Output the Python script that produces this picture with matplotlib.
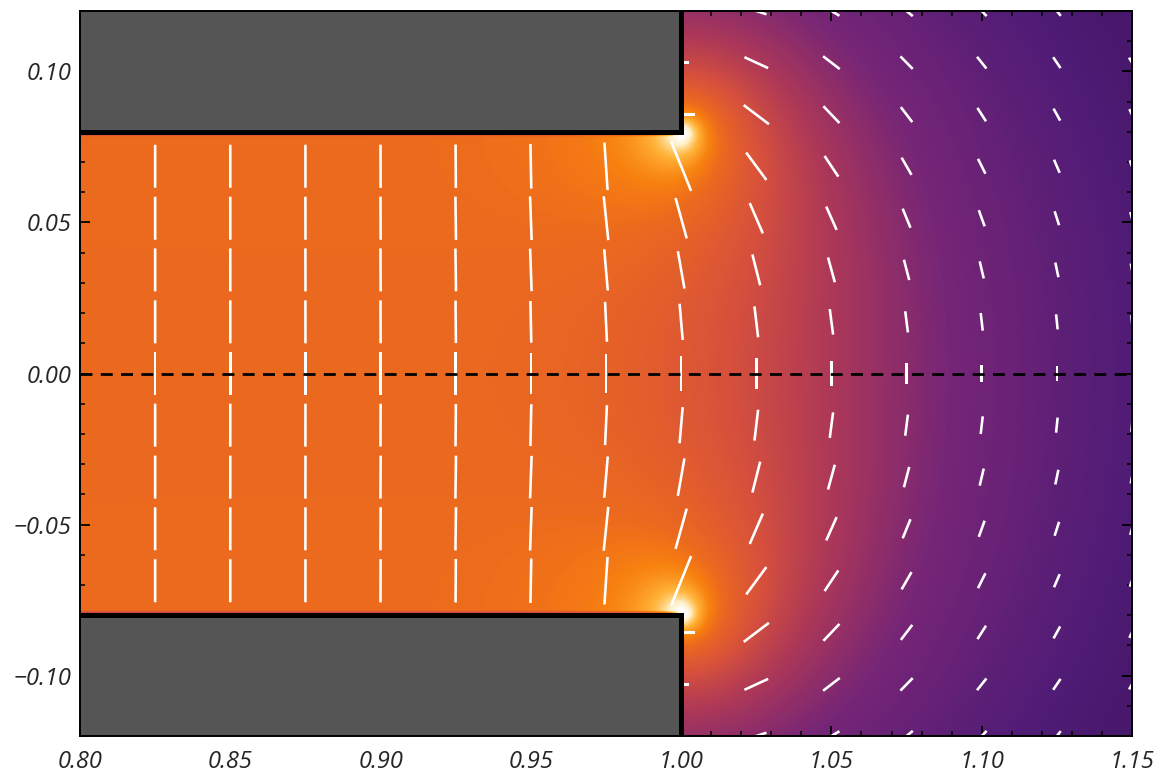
import numpy as np
import matplotlib
matplotlib.use("Agg")
import matplotlib.pyplot as plt
from matplotlib.patches import Rectangle
from matplotlib.ticker import MultipleLocator, FixedLocator
from matplotlib.colors import LogNorm, LinearSegmentedColormap

# ---------------- data / geometry ----------------
plate_edge_x = 1.00          # right end of both plates
plate_half_gap = 0.08        # plates at y = +/-0.08
plate_potential = 1.0        # upper plate +V, lower plate -V
x_limits = [0.80, 1.15]
y_limits = [-0.12, 0.12]
arrow_x = [0.825, 0.85, 0.875, 0.90, 0.925, 0.95, 0.975, 1.00,
           1.025, 1.05, 1.075, 1.10, 1.125, 1.15]
arrow_y = [-0.12, -0.1029, -0.0857, -0.0686, -0.0514, -0.0343, -0.0171, 0.0,
           0.0171, 0.0343, 0.0514, 0.0686, 0.0857, 0.1029, 0.12]
x_ticks = [0.80, 0.85, 0.90, 0.95, 1.00, 1.05, 1.10, 1.15]
y_ticks = [-0.10, -0.05, 0.00, 0.05, 0.10]
x_tick_labels = ["0.80", "0.85", "0.90", "0.95", "1.00", "1.05", "1.10", "1.15"]
y_tick_labels = ["\u22120.10", "\u22120.05", "0.00", "0.05", "0.10"]

# colour stops of the field-strength colormap
cmap_positions = [0.0, 0.25, 0.40, 0.50, 0.60, 0.70, 0.75, 0.82, 0.90, 1.0]
cmap_colors = ["#280a46", "#501c76", "#782676", "#aa375a", "#d7503c",
               "#ec6a1e", "#f8820f", "#ffb43a", "#fff0c8", "#ffffff"]

# ---------------- Laplace solve (upper half, odd symmetry) ----------------
X0, X1, Y1 = 0.40, 1.80, 0.80


def bc(xs, ys):
    X, Y = np.meshgrid(xs, ys)
    plate = (X <= plate_edge_x + 1e-9) & (Y >= plate_half_gap - 1e-9)
    val = np.where(X > plate_edge_x,
                   (2 / np.pi) * np.arctan2(Y, X - plate_edge_x),
                   np.clip(Y / plate_half_gap, 0, 1)) * plate_potential
    fixed = plate.copy()
    fixed[0, :] = True
    fixed[-1, :] = True
    fixed[:, 0] = True
    fixed[:, -1] = True
    val[plate] = plate_potential
    val[0, :] = 0.0
    return fixed, val


def relax(phi, fixed, n, omega):
    ny, nx = phi.shape
    I, J = np.indices((ny - 2, nx - 2))
    par = (I + J) % 2
    free = ~fixed[1:-1, 1:-1]
    m0 = (free & (par == 0)).astype(float) * omega
    m1 = (free & (par == 1)).astype(float) * omega
    for _ in range(n):
        for m in (m0, m1):
            c = phi[1:-1, 1:-1]
            avg = 0.25 * (phi[:-2, 1:-1] + phi[2:, 1:-1] + phi[1:-1, :-2] + phi[1:-1, 2:])
            c += m * (avg - c)
    return phi


def prolong(c):
    ny, nx = c.shape
    f = np.empty((2 * ny - 1, 2 * nx - 1))
    f[::2, ::2] = c
    f[1::2, ::2] = 0.5 * (c[:-1] + c[1:])
    f[:, 1::2] = 0.5 * (f[:, :-2:2] + f[:, 2::2])
    return f


levels = [(0.02, 600, 1.85), (0.01, 400, 1.9), (0.005, 300, 1.9),
          (0.0025, 250, 1.9), (0.00125, 200, 1.9)]
phi = None
for h, nsweep, om in levels:
    xs = np.linspace(X0, X1, int(round((X1 - X0) / h)) + 1)
    ys = np.linspace(0, Y1, int(round(Y1 / h)) + 1)
    fixed, val = bc(xs, ys)
    if phi is None:
        phi = val.copy()
    else:
        phi = prolong(phi)
    phi[fixed] = val[fixed]
    phi = relax(phi, fixed, nsweep, om)

dphi_dy, dphi_dx = np.gradient(phi, ys, xs)
Ex_u, Ey_u = -dphi_dx, -dphi_dy
# mirror to full domain: phi odd in y -> Ex odd, Ey even
ys_full = np.concatenate([-ys[:0:-1], ys])
Ex = np.vstack([-Ex_u[:0:-1], Ex_u])
Ey = np.vstack([Ey_u[:0:-1], Ey_u])
Emag = np.hypot(Ex, Ey)
E0 = 2 * plate_potential / (2 * plate_half_gap)


def bilinear(F, px, py):
    fx = (px - xs[0]) / (xs[1] - xs[0])
    fy = (py - ys_full[0]) / (ys_full[1] - ys_full[0])
    i0 = np.clip(np.floor(fx).astype(int), 0, len(xs) - 2)
    j0 = np.clip(np.floor(fy).astype(int), 0, len(ys_full) - 2)
    tx = fx - i0
    ty = fy - j0
    return ((1 - tx) * (1 - ty) * F[j0, i0] + tx * (1 - ty) * F[j0, i0 + 1]
            + (1 - tx) * ty * F[j0 + 1, i0] + tx * ty * F[j0 + 1, i0 + 1])


# crop region for display; inside the plates the field is irrelevant (covered)
ix = (xs >= x_limits[0] - 0.01) & (xs <= x_limits[1] + 0.01)
iy = (ys_full >= y_limits[0] - 0.01) & (ys_full <= y_limits[1] + 0.01)
img = Emag[np.ix_(iy, ix)].copy()
img = np.clip(img, 0.05 * E0, None)
ext = [xs[ix][0], xs[ix][-1], ys_full[iy][0], ys_full[iy][-1]]

QX, QY = np.meshgrid(np.array(arrow_x), np.array(arrow_y))
U = bilinear(Ex, QX, QY)
V = bilinear(Ey, QX, QY)

cmap = LinearSegmentedColormap.from_list("field", list(zip(cmap_positions, cmap_colors)))

# ---------------- plotting ----------------
fig = plt.figure(figsize=(11.62, 7.73), dpi=100)
ax = fig.add_axes([80 / 1162, 1 - 736 / 773, 1052 / 1162, 725 / 773])

ax.imshow(img, extent=ext, origin="lower", cmap=cmap,
          norm=LogNorm(vmin=0.155 * E0, vmax=2.23 * E0, clip=True),
          interpolation="bilinear", aspect="auto", zorder=1)

ax.quiver(QX, QY, U, V, pivot="middle", color="white", angles="xy",
          scale_units="x", scale=E0 / 0.0143, units="dots", width=2.6,
          headwidth=0, headlength=0, headaxislength=0, minlength=0, zorder=3)

plate_kw = dict(facecolor="#555555", edgecolor="black", linewidth=3.6, zorder=4)
ax.add_patch(Rectangle((0.6, plate_half_gap), plate_edge_x - 0.6, 0.2, **plate_kw))
ax.add_patch(Rectangle((0.6, -plate_half_gap - 0.2), plate_edge_x - 0.6, 0.2, **plate_kw))

ax.plot(x_limits, [0, 0], color="black", linewidth=2, dashes=(4.3, 3.0), zorder=5)

ax.set_xlim(x_limits)
ax.set_ylim(y_limits)
ax.xaxis.set_major_locator(FixedLocator(x_ticks))
ax.yaxis.set_major_locator(FixedLocator(y_ticks))
ax.set_xticklabels(x_tick_labels)
ax.set_yticklabels(y_tick_labels)
ax.xaxis.set_minor_locator(MultipleLocator(0.01))
ax.yaxis.set_minor_locator(MultipleLocator(0.01))
ax.tick_params(which="both", direction="in", top=True, right=True, color="black")
ax.tick_params(which="major", length=7, width=1.3)
ax.tick_params(which="minor", length=3.5, width=1.1)
ax.tick_params(axis="x", which="major", pad=10)
ax.tick_params(axis="y", which="major", pad=6)
for lab in ax.get_xticklabels() + ax.get_yticklabels():
    lab.set_fontfamily("Open Sans")
    lab.set_fontstyle("italic")
    lab.set_fontsize(17)
    lab.set_color("#262626")
for sp in ax.spines.values():
    sp.set_linewidth(1.4)
    sp.set_zorder(6)

fig.savefig("out.png", dpi=100)
